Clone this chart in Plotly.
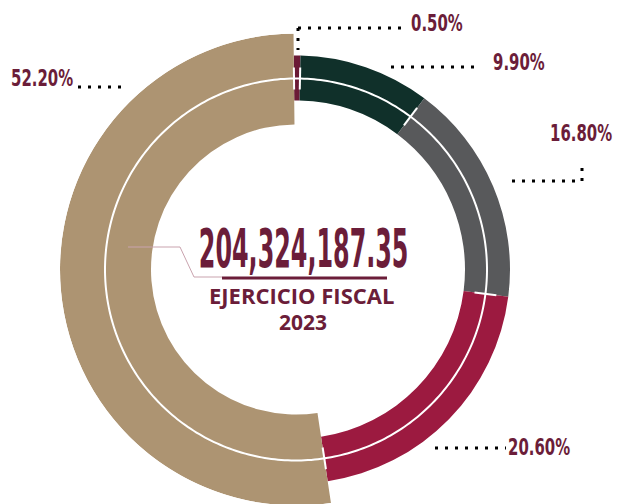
import json

import numpy as np
import plotly.graph_objects as go

# ---------------------------------------------------------------------
# DATA
# ---------------------------------------------------------------------
labels = ["0.50%", "9.90%", "16.80%", "20.60%", "52.20%"]
shares = [0.5, 9.9, 16.8, 20.6, 52.2]
colors = ["#6b1a36", "#10302a", "#58595b", "#9c1a40", "#ad9472"]
total_text = "204,324,187.35"
subtitle = "EJERCICIO FISCAL"
year = "2023"

# ---------------------------------------------------------------------
# GEOMETRY (window pixels; page body adds an 8px margin)
# ---------------------------------------------------------------------
W, H = 622, 504
OFF = 8
CX, CY = 296, 269.5
R_MAX = 236
RING = (169, 214)       # inner, outer radius of the thin segments
BIG = (145, 236)        # inner, outer radius of the largest segment
R_LINE = 191
MAROON = "#6b1d39"
NARROW = "DejaVu Sans Condensed, DejaVu Sans, sans-serif"


def px(x, y):
    return (x - OFF) / W, 1 - (y - OFF) / H


starts = np.cumsum([0] + shares[:-1]) * 3.6
widths = np.array(shares) * 3.6
centers = starts + widths / 2
big = int(np.argmax(shares))

bases = [BIG[0] if i == big else RING[0] for i in range(len(shares))]
thick = [BIG[1] - BIG[0] if i == big else RING[1] - RING[0] for i in range(len(shares))]

fig = go.Figure()
fig.add_trace(go.Barpolar(
    r=thick, base=bases, theta=centers, width=widths,
    marker=dict(color=colors, line=dict(width=0)),
    hoverinfo="skip",
))

# white guide circle through the middle of the ring
circ = np.linspace(0, 360, 361)
fig.add_trace(go.Scatterpolar(
    r=[R_LINE] * len(circ), theta=circ, mode="lines",
    line=dict(color="white", width=2), hoverinfo="skip",
))

# short white ticks at each segment boundary
for a in starts:
    fig.add_trace(go.Scatterpolar(
        r=[R_LINE - 11, R_LINE + 11], theta=[a, a], mode="lines",
        line=dict(color="white", width=2), hoverinfo="skip",
    ))

x0, _ = px(CX - R_MAX, 0)
x1, _ = px(CX + R_MAX, 0)
_, y0 = px(0, CY + R_MAX)
_, y1 = px(0, CY - R_MAX)

fig.update_layout(
    width=W, height=H,
    margin=dict(l=0, r=0, t=0, b=0),
    paper_bgcolor="white",
    showlegend=False,
    polar=dict(
        domain=dict(x=[x0, x1], y=[y0, y1]),
        bgcolor="rgba(0,0,0,0)",
        hole=0,
        radialaxis=dict(range=[0, R_MAX], visible=False, showgrid=False),
        angularaxis=dict(rotation=90.6, direction="clockwise", visible=False, showgrid=False),
    ),
)

# ---------------------------------------------------------------------
# LABELS + DOTTED LEADERS
# ---------------------------------------------------------------------
label_pos = [(437, 23), (519, 62), (581, 133), (539, 447), (42, 78)]
leaders = [
    [(298, 28), (408, 28), (298, 28), (298, 50)],
    [(391, 67), (481, 67)],
    [(512, 181), (582, 181), (582, 181), (582, 161)],
    [(435, 448), (506, 448)],
    [(78, 87), (128, 87)],
]

for lab, (lx, ly) in zip(labels, label_pos):
    ax, ay = px(lx, ly)
    fig.add_annotation(
        x=ax, y=ay, xref="paper", yref="paper", text=lab, showarrow=False,
        font=dict(family=NARROW, size=23, color=MAROON, weight="bold"),
        xanchor="center", yanchor="middle",
    )

for pts in leaders:
    for k in range(0, len(pts), 2):
        (ax0, ay0), (ax1, ay1) = px(*pts[k]), px(*pts[k + 1])
        fig.add_shape(
            type="line", xref="paper", yref="paper",
            x0=ax0, y0=ay0, x1=ax1, y1=ay1,
            line=dict(color="black", width=3, dash="3px,7px"),
        )

# ---------------------------------------------------------------------
# CENTER TEXT
# ---------------------------------------------------------------------
tx, ty = px(303, 248)
fig.add_annotation(
    x=tx, y=ty, xref="paper", yref="paper", text=total_text, showarrow=False,
    font=dict(family=NARROW, size=53, color=MAROON, weight="bold"),
    xanchor="center", yanchor="middle",
)
sx, sy = px(301, 295)
fig.add_annotation(
    x=sx, y=sy, xref="paper", yref="paper", text=subtitle, showarrow=False,
    font=dict(family="Open Sans", size=22, color=MAROON, weight="bold"),
    xanchor="center", yanchor="middle",
)
yx, yy = px(303, 322)
fig.add_annotation(
    x=yx, y=yy, xref="paper", yref="paper", text=year, showarrow=False,
    font=dict(family="Open Sans", size=21, color=MAROON, weight="bold"),
    xanchor="center", yanchor="middle",
)

# underline
ux0, uy = px(222, 278)
ux1, _ = px(387, 278)
fig.add_shape(type="line", xref="paper", yref="paper", x0=ux0, y0=uy, x1=ux1, y1=uy,
              line=dict(color=MAROON, width=3))

# thin connector from the big segment to the total
path_pts = [(128, 247), (180, 247), (194, 277), (222, 277)]
path = "M " + " L ".join(f"{px(x, y)[0]},{px(x, y)[1]}" for x, y in path_pts)
fig.add_shape(type="path", xref="paper", yref="paper", path=path,
              line=dict(color="#c9a3ae", width=1))

# no extra-condensed font is installed, so squeeze the numeric texts horizontally
squeeze = {total_text: 0.5}
squeeze.update({lab: 0.72 for lab in labels})
post = """
var sq = %s;
document.querySelectorAll('text.annotation-text').forEach(function(el) {
    var k = sq[el.textContent];
    if (k) {
        el.style.transformBox = 'fill-box';
        el.style.transformOrigin = 'center';
        el.style.transform = 'scaleX(' + k + ')';
    }
});
""" % json.dumps(squeeze)

fig.write_html("out.html", post_script=post)
